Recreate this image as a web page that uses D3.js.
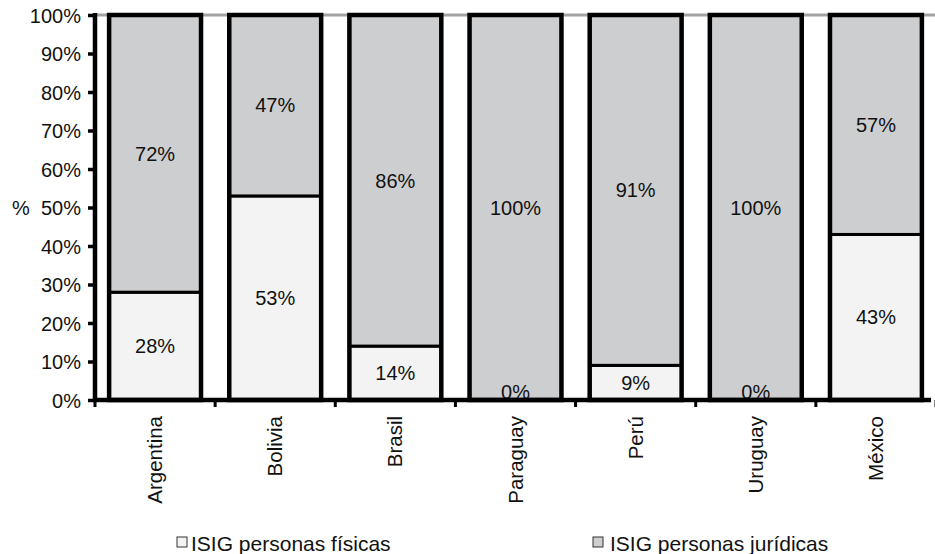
<!DOCTYPE html>
<html>
<head>
<meta charset="utf-8">
<script src="https://cdn.jsdelivr.net/npm/d3@7/dist/d3.min.js"></script>
<style>
  html, body { margin: 0; padding: 0; background: #fff; }
  svg { display: block; }
  text { font-family: "Liberation Sans", Arial, Helvetica, sans-serif; fill: #111; }
</style>
</head>
<body>
<svg id="chart" width="935" height="554"></svg>
<script>
// Share of ISIG revenue by type of taxpayer (percent of total)
const countries = ["Argentina", "Bolivia", "Brasil", "Paraguay", "Perú", "Uruguay", "México"];
const personasFisicas   = [28, 53, 14, 0, 9, 0, 43];
const personasJuridicas = [72, 47, 86, 100, 91, 100, 57];
const seriesNames = ["ISIG personas físicas", "ISIG personas jurídicas"];
const yTicks = [0, 10, 20, 30, 40, 50, 60, 70, 80, 90, 100];

const colors = ["#f2f3f2", "#cdced0"];

const svg = d3.select("#chart");
const plot = { left: 95, right: 936, top: 15, bottom: 400 };

const x = d3.scaleBand()
  .domain(countries)
  .range([plot.left, plot.right])
  .paddingInner(0.235)
  .paddingOuter(0.1175);

const y = d3.scaleLinear().domain([0, 100]).range([plot.bottom, plot.top]);

// stacked table built from the two series
const table = countries.map((c, i) => ({
  country: c,
  fisicas: personasFisicas[i],
  juridicas: personasJuridicas[i]
}));
const stack = d3.stack().keys(["fisicas", "juridicas"])(table);

// gridline at the top of the scale
svg.append("line")
  .attr("x1", plot.left).attr("x2", 935)
  .attr("y1", y(100)).attr("y2", y(100))
  .attr("stroke", "#a3a3a3").attr("stroke-width", 3);

// bar segments
stack.forEach((layer, li) => {
  svg.append("g").selectAll("rect")
    .data(layer)
    .join("rect")
    .attr("x", d => x(d.data.country))
    .attr("width", x.bandwidth())
    .attr("y", d => y(d[1]))
    .attr("height", d => y(d[0]) - y(d[1]))
    .attr("fill", colors[li])
    .attr("stroke", "#000")
    .attr("stroke-width", 3);
});

// heavy outline around each whole bar
svg.append("g").selectAll("rect")
  .data(table)
  .join("rect")
  .attr("x", d => x(d.country))
  .attr("width", x.bandwidth())
  .attr("y", d => y(d.fisicas + d.juridicas))
  .attr("height", d => y(0) - y(d.fisicas + d.juridicas))
  .attr("fill", "none")
  .attr("stroke", "#000")
  .attr("stroke-width", 4.5);

// value labels centred in each segment
stack.forEach(layer => {
  svg.append("g").selectAll("text")
    .data(layer)
    .join("text")
    .attr("x", d => x(d.data.country) + x.bandwidth() / 2)
    .attr("y", d => Math.min((y(d[0]) + y(d[1])) / 2, y(0) - 8))
    .attr("text-anchor", "middle")
    .attr("dominant-baseline", "central")
    .attr("font-size", 20)
    .text(d => (d[1] - d[0]) + "%");
});

// y axis
const yAxis = svg.append("g")
  .attr("transform", `translate(${plot.left},0)`)
  .call(d3.axisLeft(y).tickValues(yTicks).tickSize(7).tickPadding(7)
    .tickFormat(d => d + "%"));
yAxis.select(".domain").remove();
yAxis.selectAll(".tick line").attr("stroke", "#000").attr("stroke-width", 3.5);
yAxis.selectAll(".tick text")
  .attr("font-size", 20)
  .attr("font-family", "Liberation Sans, Arial, Helvetica, sans-serif")
  .attr("fill", "#111")
  .attr("dy", "0.36em");
svg.append("line")
  .attr("x1", plot.left).attr("x2", plot.left)
  .attr("y1", y(100) - 2).attr("y2", y(0) + 2)
  .attr("stroke", "#000").attr("stroke-width", 4.5);

// y axis title
svg.append("text")
  .attr("x", 12).attr("y", y(50))
  .attr("dy", "0.36em")
  .attr("font-size", 20)
  .text("%");

// x axis: baseline, boundary ticks and rotated category names
const boundaries = countries.map(c => x(c) - x.step() * x.paddingInner() / 2)
  .concat([plot.right]);
svg.append("g").selectAll("line")
  .data(boundaries)
  .join("line")
  .attr("x1", d => d).attr("x2", d => d)
  .attr("y1", y(0)).attr("y2", y(0) + 7)
  .attr("stroke", "#000").attr("stroke-width", 3);
svg.append("line")
  .attr("x1", plot.left - 2).attr("x2", 931)
  .attr("y1", y(0)).attr("y2", y(0))
  .attr("stroke", "#000").attr("stroke-width", 4.5);

svg.append("g").selectAll("text")
  .data(countries)
  .join("text")
  .attr("transform", d => `translate(${x(d) + x.bandwidth() / 2 + 7},${y(0) + 16}) rotate(-90)`)
  .attr("text-anchor", "end")
  .attr("font-size", 20.5)
  .text(d => d);

// legend
const legendX = [177, 593];
const legend = svg.append("g").selectAll("g")
  .data(seriesNames)
  .join("g")
  .attr("transform", (d, i) => `translate(${legendX[i]},537)`);
legend.append("rect")
  .attr("width", 10).attr("height", 10)
  .attr("fill", (d, i) => colors[i])
  .attr("stroke", "#333").attr("stroke-width", 1);
legend.append("text")
  .attr("x", (d, i) => i === 0 ? 14 : 17)
  .attr("y", 14)
  .attr("font-size", 21)
  .text(d => d);
</script>
</body>
</html>
